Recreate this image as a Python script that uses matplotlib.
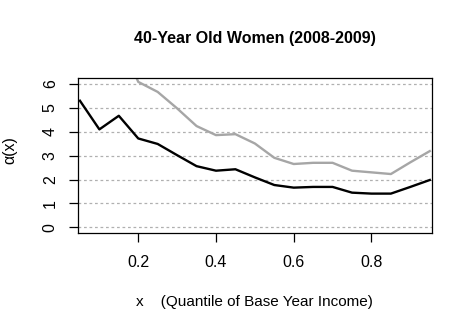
import matplotlib
matplotlib.use("Agg")
import matplotlib.pyplot as plt
import numpy as np

plt.rcParams['font.family'] = ['Liberation Sans', 'DejaVu Sans']

# quantiles of base year income
quantile = [0.05, 0.10, 0.15, 0.20, 0.25, 0.30, 0.35, 0.40, 0.45, 0.50,
            0.55, 0.60, 0.65, 0.70, 0.75, 0.80, 0.85, 0.90, 0.95]
alpha_black = [5.30, 4.10, 4.67, 3.72, 3.49, 3.02, 2.56, 2.37, 2.43, 2.09,
               1.77, 1.66, 1.69, 1.69, 1.45, 1.41, 1.41, 1.69, 1.98]
alpha_gray = [9.50, 8.60, 7.97, 6.09, 5.67, 4.98, 4.24, 3.86, 3.90, 3.51,
              2.91, 2.65, 2.70, 2.70, 2.37, 2.30, 2.23, 2.72, 3.19]
y_ticks = [0, 1, 2, 3, 4, 5, 6]
x_ticks = [0.2, 0.4, 0.6, 0.8]

W, H = 472, 331
fig = plt.figure(figsize=(W / 100, H / 100), dpi=100)
ax = fig.add_axes([78 / W, 1 - 233 / H, (431.7 - 78) / W, (233 - 78.3) / H])

# dotted horizontal reference lines
for v in y_ticks:
    ax.axhline(v, color='#b0b0b0', lw=0.9, ls=(0, (2.2, 2.2)), zorder=1)

ax.plot(quantile, alpha_gray, color='#a6a6a6', lw=1.7, zorder=2)
ax.plot(quantile, alpha_black, color='black', lw=1.7, zorder=3)

ax.set_xlim(0.045, 0.955)
ax.set_ylim(-0.24, 6.24)
ax.set_xticks(x_ticks)
ax.set_xticklabels([f"{t:.1f}" for t in x_ticks])
ax.set_yticks(y_ticks)
ax.set_yticklabels([str(t) for t in y_ticks], rotation=90, va='center')
ax.tick_params(direction='out', length=6.5, width=0.9, labelsize=11.5)
ax.tick_params(axis='x', pad=9)
ax.tick_params(axis='y', pad=8)
for s in ax.spines.values():
    s.set_linewidth(0.9)

fig.text(254.8 / W, 1 - 38 / H, "40-Year Old Women (2008-2009)",
         ha='center', va='center', fontsize=11.5, fontweight='bold')
fig.text(254.8 / W, 1 - 302 / H, "x    (Quantile of Base Year Income)",
         ha='center', va='center', fontsize=11)
fig.text(10 / W, 1 - 150 / H, "α(x)", ha='center', va='center',
         rotation=90, fontsize=11.5)

fig.savefig("out.png", dpi=100)
